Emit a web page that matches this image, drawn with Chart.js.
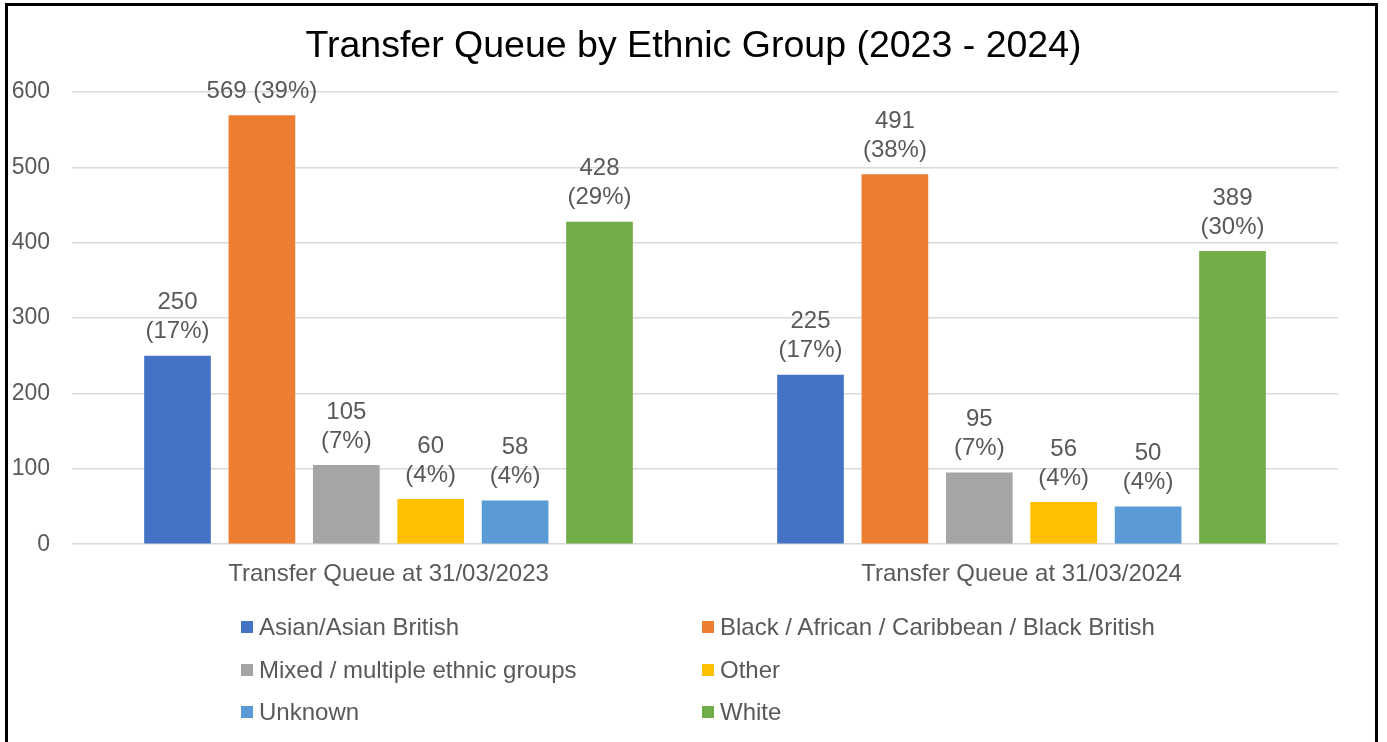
<!DOCTYPE html>
<html>
<head>
<meta charset="utf-8">
<script src="https://cdn.jsdelivr.net/npm/chart.js@4.4.1/dist/chart.umd.min.js"></script>
<style>
    body {
        margin: 0;
        background: #fff;
        font-family: "Liberation Sans", Arial, sans-serif;
    }
    .wrapper {
        position: relative;
        width: 1387px;
        height: 742px;
        overflow: hidden;
    }
    .frame {
        position: absolute;
        left: 5px;
        top: 3px;
        width: 1373px;
        height: 760px;
        border: 3px solid #000;
        box-sizing: border-box;
    }
    .chart_box {
        position: absolute;
        left: 0;
        top: 0;
        width: 1387px;
        height: 610px;
    }
    .legend {
        position: absolute;
        left: 241px;
        top: 606px;
        display: grid;
        grid-template-columns: 461px 461px;
        grid-auto-rows: 42.5px;
        color: #595959;
        font-size: 24px;
    }
    .legend_item {
        display: flex;
        align-items: center;
    }
    .legend_box {
        width: 12px;
        height: 12px;
        margin-right: 6px;
    }
</style>
</head>
<body>
<div class="wrapper">
    <div class="frame"></div>
    <div class="chart_box"><canvas id="transfer_chart"></canvas></div>
    <div class="legend" id="legend"></div>
</div>
<script>
const chartTitle = "Transfer Queue by Ethnic Group (2023 - 2024)";
const categories = ["Transfer Queue at 31/03/2023", "Transfer Queue at 31/03/2024"];
const groups = [
    "Asian/Asian British",
    "Black / African / Caribbean / Black British",
    "Mixed / multiple ethnic groups",
    "Other",
    "Unknown",
    "White"
];
const colors = ["#4472C4", "#ED7D31", "#A5A5A5", "#FFC000", "#5B9BD5", "#70AD47"];
// values per group: [2023, 2024]
const asianValues = [250, 225];
const blackValues = [569, 491];
const mixedValues = [105, 95];
const otherValues = [60, 56];
const unknownValues = [58, 50];
const whiteValues = [428, 389];
const asianPct = ["17%", "17%"];
const blackPct = ["39%", "38%"];
const mixedPct = ["7%", "7%"];
const otherPct = ["4%", "4%"];
const unknownPct = ["4%", "4%"];
const whitePct = ["29%", "30%"];
const yTicks = [0, 100, 200, 300, 400, 500, 600];

const allValues = [asianValues, blackValues, mixedValues, otherValues, unknownValues, whiteValues];
const allPct = [asianPct, blackPct, mixedPct, otherPct, unknownPct, whitePct];

const FONT = "'Liberation Sans', Arial, sans-serif";
const TEXT = "#595959";

const datasets = groups.map((name, i) => ({
    label: name,
    data: allValues[i],
    pct: allPct[i],
    backgroundColor: colors[i],
    borderWidth: 0,
    categoryPercentage: 0.8,
    barPercentage: 0.79
}));

// value + percent labels above each bar
const barLabels = {
    id: "barLabels",
    afterDatasetsDraw(chart) {
        const ctx = chart.ctx;
        ctx.save();
        ctx.font = `24px ${FONT}`;
        ctx.fillStyle = TEXT;
        ctx.textAlign = "center";
        ctx.textBaseline = "middle";
        chart.data.datasets.forEach((ds, i) => {
            const meta = chart.getDatasetMeta(i);
            meta.data.forEach((bar, j) => {
                const value = ds.data[j];
                const pct = `(${ds.pct[j]})`;
                const baseY = bar.y - 24;
                // the tallest bar has no room for two lines
                if (value > 540) {
                    ctx.fillText(`${value} ${pct}`, bar.x, baseY);
                } else {
                    ctx.fillText(pct, bar.x, baseY);
                    ctx.fillText(String(value), bar.x, baseY - 29);
                }
            });
        });
        ctx.restore();
    }
};

// title centred on the whole canvas, not on the padded layout box
const centredTitle = {
    id: "centredTitle",
    afterDraw(chart) {
        const ctx = chart.ctx;
        ctx.save();
        ctx.font = `37.5px ${FONT}`;
        ctx.fillStyle = "#000";
        ctx.textAlign = "center";
        ctx.textBaseline = "middle";
        ctx.fillText(chartTitle, chart.width / 2, 47);
        ctx.restore();
    }
};

new Chart(document.getElementById("transfer_chart"), {
    type: "bar",
    data: {
        labels: categories,
        datasets: datasets
    },
    plugins: [barLabels, centredTitle],
    options: {
        responsive: true,
        maintainAspectRatio: false,
        animation: false,
        layout: {
            padding: { left: 8, right: 49, top: 92, bottom: 13 }
        },
        plugins: {
            legend: { display: false },
            tooltip: { enabled: false },
            title: { display: false }
        },
        scales: {
            x: {
                grid: { display: false },
                border: { display: false },
                ticks: {
                    color: TEXT,
                    font: { family: FONT, size: 24 },
                    padding: 8
                }
            },
            y: {
                min: 0,
                max: 600,
                afterBuildTicks: (axis) => {
                    axis.ticks = yTicks.map(v => ({ value: v }));
                },
                afterFit: (axis) => {
                    axis.width = 64;
                },
                grid: {
                    color: "#D9D9D9",
                    lineWidth: 1.5,
                    drawTicks: false
                },
                border: { display: false },
                ticks: {
                    color: TEXT,
                    font: { family: FONT, size: 23 },
                    padding: 22
                }
            }
        }
    }
});

const legendEle = document.getElementById("legend");
groups.forEach((name, i) => {
    const item = document.createElement("div");
    item.className = "legend_item";
    const box = document.createElement("span");
    box.className = "legend_box";
    box.style.background = colors[i];
    const txt = document.createElement("span");
    txt.textContent = name;
    item.appendChild(box);
    item.appendChild(txt);
    legendEle.appendChild(item);
});
</script>
</body>
</html>
